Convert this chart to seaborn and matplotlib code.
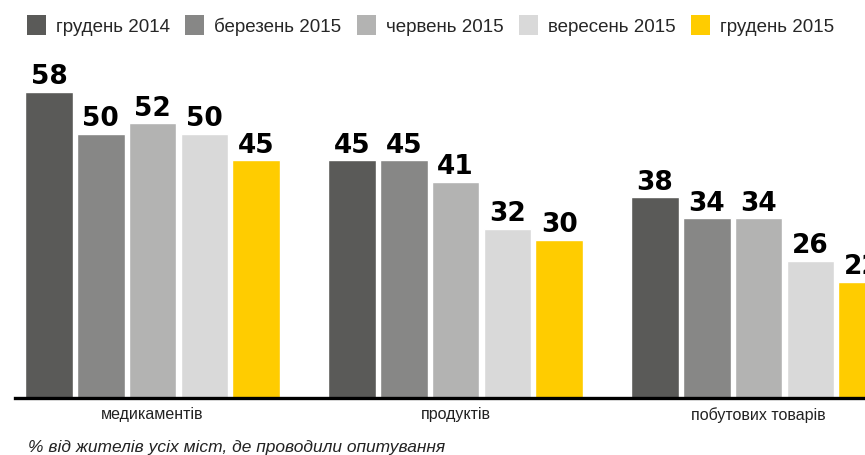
import numpy as np
import pandas as pd
import seaborn as sns
import matplotlib.pyplot as plt
from matplotlib.patches import Patch

# categories and survey waves
categories = ["медикаментів", "продуктів", "побутових товарів"]
periods = ["грудень 2014", "березень 2015", "червень 2015", "вересень 2015", "грудень 2015"]

# percent of residents, one list per wave (in category order)
dec_2014 = [58, 45, 38]
mar_2015 = [50, 45, 34]
jun_2015 = [52, 41, 34]
sep_2015 = [50, 32, 26]
dec_2015 = [45, 30, 22]

colors = ["#5a5a58", "#878786", "#b3b3b2", "#d9d9d9", "#ffcc00"]

series = [dec_2014, mar_2015, jun_2015, sep_2015, dec_2015]
rows = []
for p, vals in zip(periods, series):
    for c, v in zip(categories, vals):
        rows.append({"category": c, "period": p, "value": v})
df = pd.DataFrame(rows)

sns.set_theme(style="white")
plt.rcParams["font.family"] = ["Liberation Sans", "DejaVu Sans"]

fig = plt.figure(figsize=(8.65, 4.56), dpi=100)
# axes spans from x=15px to the right figure edge, baseline at y=399px
ax = fig.add_axes([15 / 865, (456 - 399) / 456, 850 / 865, 339 / 456])

sns.barplot(data=df, x="category", y="value", hue="period", order=categories,
            hue_order=periods, palette=colors, width=0.855, gap=0.08,
            saturation=1, legend=False, ax=ax)

# value labels above bars (the last one is cut by the figure edge, as in the original)
for cont in ax.containers:
    for bar in cont:
        h = bar.get_height()
        ax.text(bar.get_x() + bar.get_width() / 2, h + 0.5, f"{h:.0f}",
                ha="center", va="bottom", fontsize=19, fontweight="heavy",
                color="black", family=["DejaVu Sans"], clip_on=False)

ax.set_xlim(-0.454, 2.351)
ax.set_ylim(0, 64.2)
ax.set_xlabel("")
ax.set_ylabel("")
ax.set_yticks([])
for s in ["top", "right", "left"]:
    ax.spines[s].set_visible(False)
ax.spines["bottom"].set_color("black")
ax.spines["bottom"].set_linewidth(2.4)
ax.tick_params(axis="x", length=0, pad=6, labelsize=11.5, labelcolor="#222222")

handles = [Patch(facecolor=c, edgecolor="none") for c in colors]
fig.legend(handles, periods, loc="upper left", bbox_to_anchor=(23 / 865, 1 - 12 / 456),
           ncol=5, frameon=False, fontsize=13.5, handlelength=1.0, handleheight=1.3,
           handletextpad=0.55, columnspacing=0.82, borderaxespad=0, borderpad=0.2)

fig.text(28 / 865, 1 - 448 / 456, "% від жителів усіх міст, де проводили опитування",
         fontsize=12.5, fontstyle="italic", color="#222222", va="center", ha="left")

fig.savefig("out.png", dpi=100)
